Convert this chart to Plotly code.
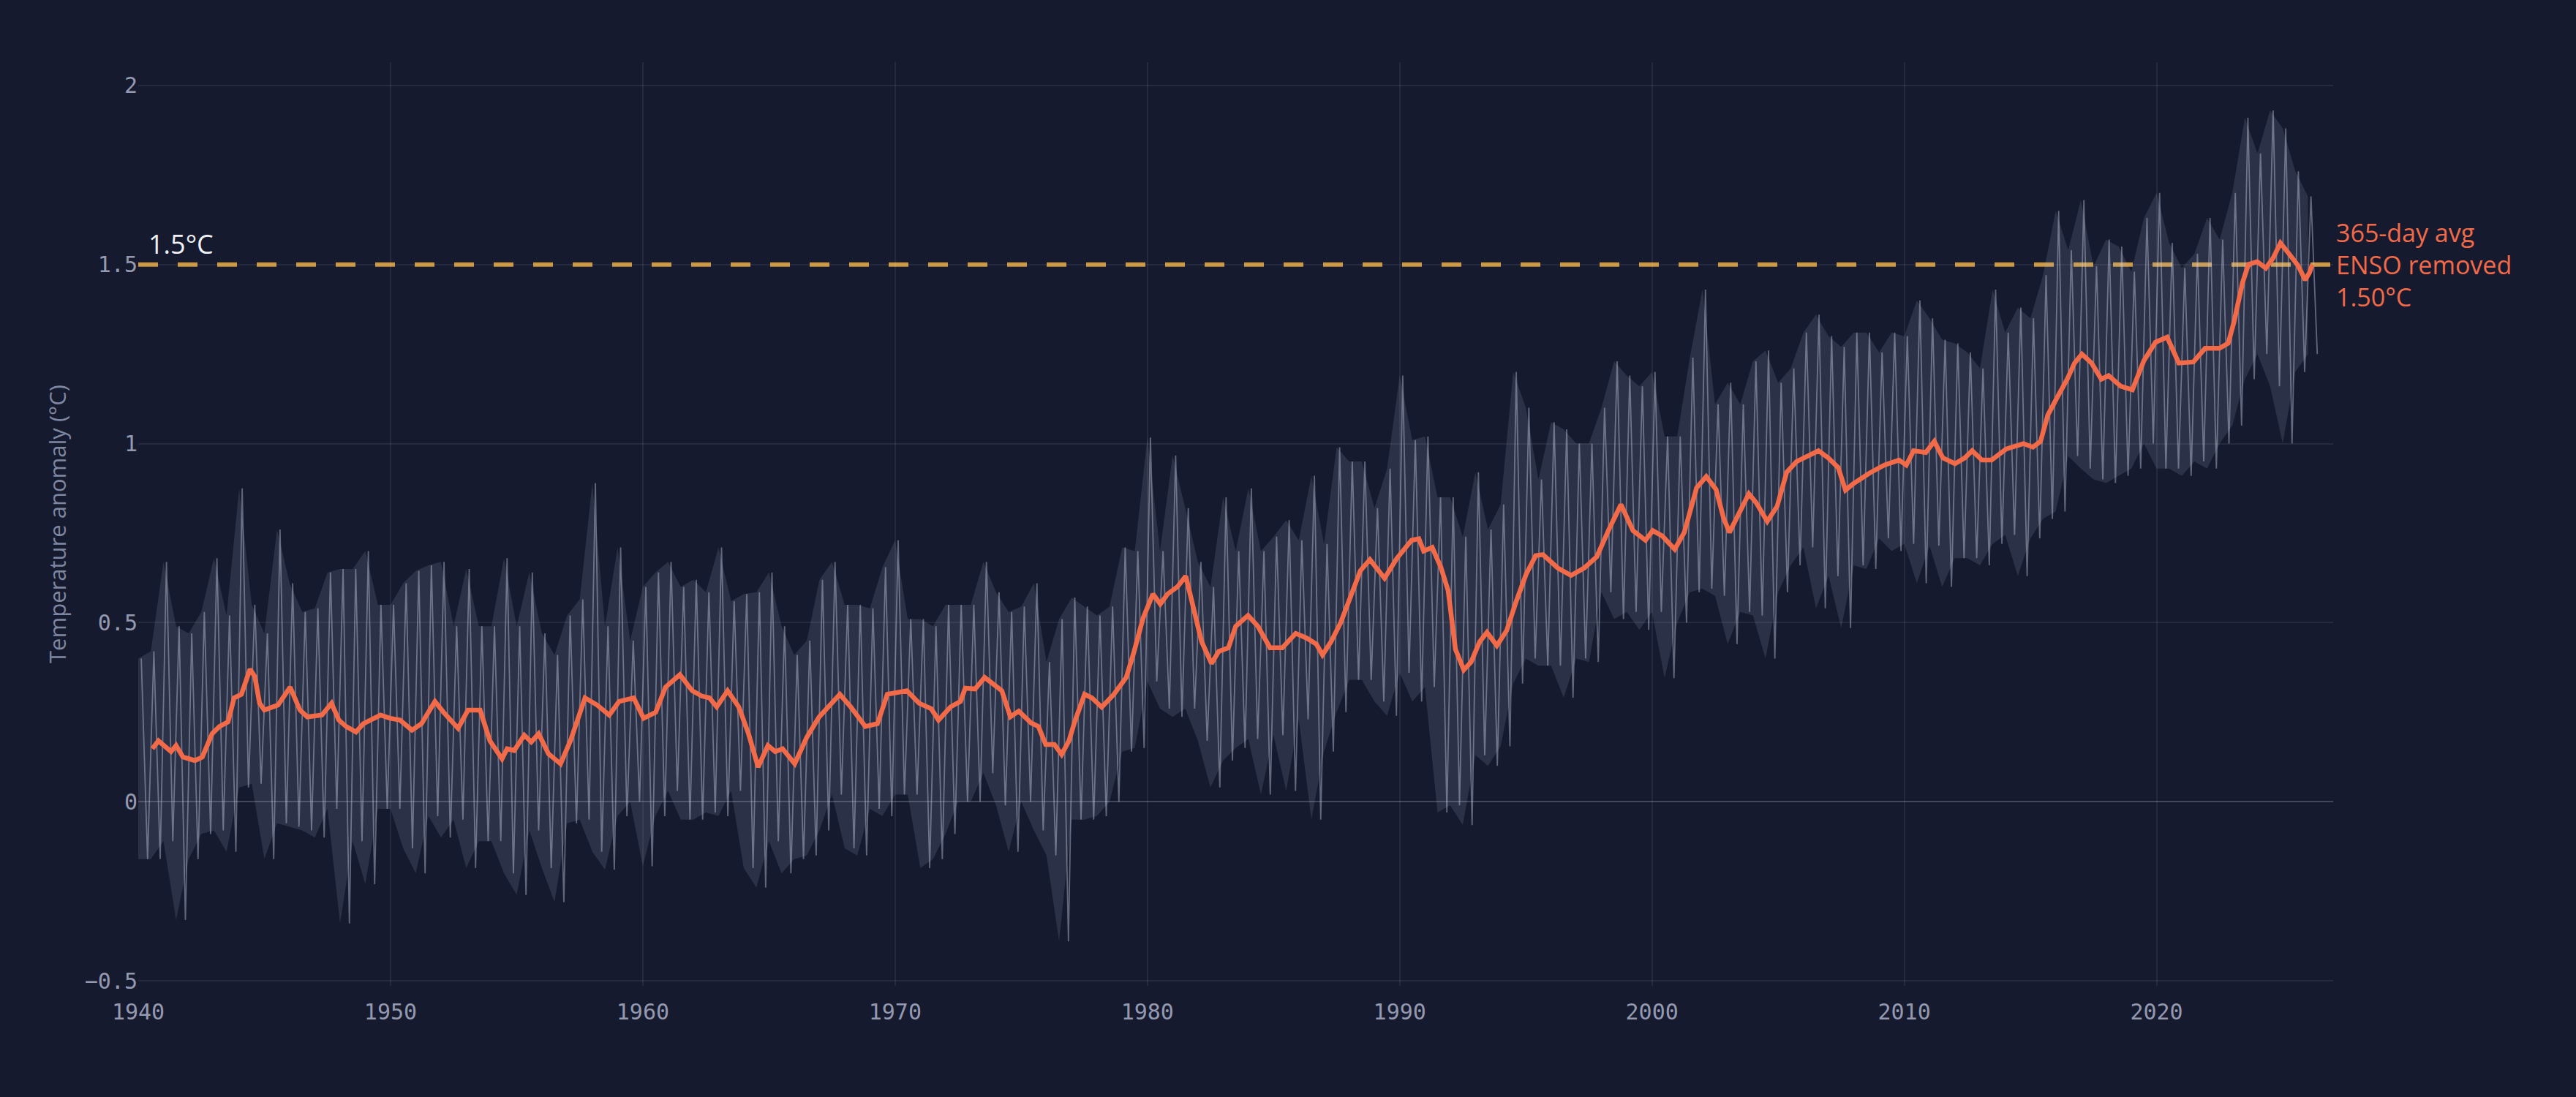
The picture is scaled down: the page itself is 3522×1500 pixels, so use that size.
import plotly.graph_objects as go

# 365-day average, ENSO removed
avg_years = [
    1940.56, 1940.8, 1941.3, 1941.5, 1941.77, 1942.25, 1942.54, 1942.93, 1943.22, 1943.56,
    1943.8, 1944.09, 1944.43, 1944.62, 1944.81, 1945.0, 1945.54, 1946.02, 1946.41, 1946.7,
    1947.28, 1947.66, 1947.95, 1948.24, 1948.63, 1948.92, 1949.6, 1949.98, 1950.37, 1950.85,
    1951.23, 1951.76, 1952.1, 1952.68, 1953.07, 1953.55, 1953.94, 1954.42, 1954.62, 1954.9,
    1955.3, 1955.58, 1955.87, 1956.26, 1956.74, 1957.13, 1957.71, 1958.19, 1958.67, 1959.06,
    1959.64, 1960.03, 1960.51, 1960.9, 1961.47, 1961.96, 1962.34, 1962.64, 1962.93, 1963.36,
    1963.8, 1964.19, 1964.57, 1964.96, 1965.25, 1965.54, 1966.02, 1966.5, 1966.99, 1967.37,
    1967.81, 1968.24, 1968.82, 1969.3, 1969.69, 1970.47, 1970.95, 1971.43, 1971.72, 1972.2,
    1972.59, 1972.78, 1973.17, 1973.55, 1973.94, 1974.23, 1974.57, 1974.9, 1975.39, 1975.68,
    1975.97, 1976.31, 1976.6, 1976.89, 1977.13, 1977.51, 1977.8, 1978.19, 1978.67, 1979.16,
    1979.45, 1979.83, 1980.22, 1980.51, 1980.8, 1981.19, 1981.52, 1981.86, 1982.15, 1982.54,
    1982.83, 1983.21, 1983.5, 1983.99, 1984.38, 1984.86, 1985.35, 1985.88, 1986.31, 1986.7,
    1986.94, 1987.28, 1987.66, 1988.05, 1988.44, 1988.82, 1989.4, 1989.89, 1990.47, 1990.76,
    1990.95, 1991.29, 1991.63, 1991.92, 1992.21, 1992.54, 1992.83, 1993.17, 1993.46, 1993.85,
    1994.24, 1994.62, 1995.01, 1995.39, 1995.68, 1996.26, 1996.79, 1997.32, 1997.81, 1998.29,
    1998.77, 1999.25, 1999.74, 2000.03, 2000.41, 2000.9, 2001.28, 2001.77, 2002.15, 2002.54,
    2002.83, 2003.07, 2003.51, 2003.84, 2004.13, 2004.57, 2004.96, 2005.34, 2005.73, 2006.21,
    2006.6, 2006.99, 2007.38, 2007.67, 2007.96, 2008.63, 2009.21, 2009.79, 2010.08, 2010.37,
    2010.85, 2011.19, 2011.53, 2012.01, 2012.4, 2012.69, 2013.08, 2013.46, 2014.04, 2014.72,
    2015.1, 2015.4, 2015.69, 2016.07, 2016.46, 2016.75, 2017.04, 2017.42, 2017.81, 2018.1,
    2018.58, 2019.04, 2019.5, 2019.96, 2020.42, 2020.88, 2021.46, 2021.92, 2022.49, 2022.84,
    2023.07, 2023.41, 2023.64, 2023.99, 2024.33, 2024.62, 2024.91, 2025.25, 2025.6, 2025.89,
    2026.06, 2026.17,
]
avg_vals = [
    0.148, 0.17, 0.14, 0.157, 0.125, 0.115, 0.125, 0.19, 0.21, 0.223,
    0.29, 0.30, 0.37, 0.35, 0.275, 0.256, 0.27, 0.32, 0.256, 0.237,
    0.242, 0.275, 0.228, 0.21, 0.195, 0.218, 0.242, 0.233, 0.228, 0.20,
    0.218, 0.28, 0.25, 0.205, 0.256, 0.256, 0.17, 0.12, 0.148, 0.143,
    0.186, 0.167, 0.19, 0.134, 0.106, 0.17, 0.29, 0.27, 0.242, 0.28,
    0.29, 0.233, 0.25, 0.32, 0.355, 0.31, 0.295, 0.29, 0.265, 0.31,
    0.265, 0.19, 0.097, 0.157, 0.14, 0.148, 0.106, 0.18, 0.237, 0.265,
    0.30, 0.265, 0.21, 0.218, 0.30, 0.31, 0.275, 0.26, 0.228, 0.265,
    0.28, 0.317, 0.315, 0.347, 0.325, 0.31, 0.237, 0.253, 0.22, 0.21,
    0.16, 0.16, 0.132, 0.17, 0.226, 0.30, 0.29, 0.264, 0.30, 0.347,
    0.414, 0.513, 0.58, 0.552, 0.58, 0.60, 0.63, 0.524, 0.447, 0.386,
    0.42, 0.43, 0.49, 0.52, 0.49, 0.43, 0.43, 0.47, 0.457, 0.44,
    0.41, 0.447, 0.50, 0.572, 0.645, 0.676, 0.624, 0.68, 0.73, 0.734,
    0.70, 0.71, 0.655, 0.59, 0.426, 0.368, 0.39, 0.447, 0.473, 0.436,
    0.478, 0.56, 0.635, 0.687, 0.69, 0.653, 0.632, 0.653, 0.684, 0.76,
    0.83, 0.757, 0.73, 0.757, 0.742, 0.705, 0.752, 0.877, 0.908, 0.872,
    0.794, 0.752, 0.815, 0.86, 0.835, 0.783, 0.825, 0.92, 0.95, 0.966,
    0.98, 0.96, 0.933, 0.87, 0.887, 0.918, 0.94, 0.954, 0.94, 0.98,
    0.975, 1.006, 0.96, 0.944, 0.96, 0.98, 0.954, 0.954, 0.985, 1.0,
    0.99, 1.006, 1.08, 1.13, 1.18, 1.225, 1.25, 1.225, 1.18, 1.19,
    1.16, 1.15, 1.232, 1.283, 1.297, 1.225, 1.228, 1.266, 1.266, 1.28,
    1.34, 1.45, 1.50, 1.508, 1.49, 1.518, 1.56, 1.53, 1.498, 1.457,
    1.477, 1.50,
]

# daily anomaly band: highs and lows per half year
daily_years = [1940 + 0.5 * i for i in range(173)]
daily_hi = [
    0.40, 0.42, 0.67, 0.49, 0.47, 0.53, 0.68, 0.52, 0.875, 0.55,
    0.47, 0.76, 0.61, 0.53, 0.54, 0.64, 0.65, 0.65, 0.70, 0.55,
    0.55, 0.61, 0.645, 0.66, 0.67, 0.49, 0.65, 0.49, 0.49, 0.68,
    0.49, 0.64, 0.47, 0.41, 0.52, 0.565, 0.89, 0.49, 0.71, 0.45,
    0.60, 0.64, 0.67, 0.60, 0.62, 0.585, 0.71, 0.56, 0.58, 0.585,
    0.64, 0.49, 0.41, 0.45, 0.62, 0.67, 0.55, 0.55, 0.54, 0.655,
    0.73, 0.51, 0.51, 0.49, 0.55, 0.55, 0.55, 0.67, 0.585, 0.53,
    0.545, 0.61, 0.39, 0.51, 0.57, 0.545, 0.52, 0.545, 0.71, 0.70,
    1.017, 0.70, 0.967, 0.82, 0.67, 0.60, 0.85, 0.70, 0.875, 0.70,
    0.74, 0.786, 0.73, 0.91, 0.72, 0.99, 0.95, 0.95, 0.82, 0.93,
    1.19, 1.01, 1.02, 0.85, 0.85, 0.74, 0.92, 0.76, 0.83, 1.20,
    1.10, 0.90, 1.06, 1.04, 1.0, 1.0, 1.10, 1.23, 1.19, 1.16,
    1.20, 1.02, 1.02, 1.24, 1.43, 1.11, 1.17, 1.11, 1.23, 1.26,
    1.17, 1.21, 1.31, 1.36, 1.30, 1.27, 1.31, 1.31, 1.255, 1.31,
    1.30, 1.40, 1.35, 1.29, 1.28, 1.255, 1.21, 1.43, 1.31, 1.38,
    1.35, 1.47, 1.65, 1.54, 1.68, 1.495, 1.57, 1.55, 1.48, 1.63,
    1.70, 1.56, 1.49, 1.53, 1.63, 1.57, 1.70, 1.91, 1.81, 1.93,
    1.88, 1.76, 1.69,
]
daily_lo = [
    -0.16, -0.16, -0.11, -0.33, -0.16, -0.09, -0.08, -0.14, 0.04, 0.05,
    -0.16, -0.06, -0.07, -0.08, -0.10, -0.02, -0.34, -0.11, -0.23, -0.02,
    -0.02, -0.13, -0.20, -0.04, -0.10, -0.05, -0.185, -0.11, -0.11, -0.20,
    -0.26, -0.08, -0.185, -0.28, -0.06, -0.05, -0.14, -0.19, -0.04, 0.0,
    -0.18, -0.04, 0.03, -0.05, -0.05, -0.03, -0.04, 0.03, -0.185, -0.24,
    -0.11, -0.20, -0.16, -0.15, -0.08, 0.02, -0.13, -0.15, -0.02, -0.04,
    0.02, 0.02, -0.185, -0.16, -0.09, 0.0, 0.0, 0.08, -0.01, -0.14,
    0.0, -0.08, -0.15, -0.39, -0.05, -0.05, -0.04, 0.0, 0.14, 0.15,
    0.336, 0.26, 0.237, 0.26, 0.17, 0.04, 0.115, 0.15, 0.175, 0.02,
    0.186, 0.03, 0.23, -0.05, 0.14, 0.25, 0.34, 0.34, 0.28, 0.24,
    0.36, 0.28, 0.32, -0.03, -0.01, -0.065, 0.13, 0.10, 0.155, 0.33,
    0.40, 0.38, 0.38, 0.29, 0.40, 0.39, 0.585, 0.51, 0.53, 0.48,
    0.53, 0.345, 0.50, 0.585, 0.595, 0.575, 0.44, 0.53, 0.52, 0.40,
    0.585, 0.66, 0.71, 0.54, 0.63, 0.485, 0.66, 0.65, 0.735, 0.70,
    0.72, 0.61, 0.715, 0.60, 0.68, 0.68, 0.66, 0.72, 0.745, 0.63,
    0.735, 0.79, 0.81, 0.965, 0.93, 0.90, 0.89, 0.91, 0.93, 1.0,
    0.93, 0.93, 0.91, 0.95, 0.93, 1.0, 1.05, 1.18, 1.25, 1.16,
    1.0, 1.2, 1.25,
]

threshold = 1.5
x_ticks = [1940, 1950, 1960, 1970, 1980, 1990, 2000, 2010, 2020]
y_ticks = [-0.5, 0, 0.5, 1, 1.5, 2]

bg = "#151a2e"
orange = "#f26a48"
tick_col = "#9499b0"
mono = "DejaVu Sans Mono"
sans = "Open Sans"

# spikes: alternate the high and low of each half year
spike_x, spike_y = [], []
for t, hi, lo in zip(daily_years, daily_hi, daily_lo):
    spike_x += [t + 0.12, t + 0.37]
    spike_y += [hi, lo]

fig = go.Figure()
fig.add_trace(go.Scatter(x=daily_years, y=daily_lo, mode="lines",
                         line=dict(width=0), hoverinfo="skip"))
fig.add_trace(go.Scatter(x=daily_years, y=daily_hi, mode="lines",
                         line=dict(width=0), fill="tonexty",
                         fillcolor="rgba(175,182,210,0.15)", hoverinfo="skip"))
fig.add_trace(go.Scatter(x=spike_x, y=spike_y, mode="lines",
                         line=dict(color="rgba(205,210,232,0.42)", width=1.8)))
fig.add_trace(go.Scatter(x=avg_years, y=avg_vals, mode="lines",
                         line=dict(color=orange, width=6.5)))

fig.add_shape(type="line", xref="paper", x0=0, x1=1, yref="y", y0=threshold, y1=threshold,
              line=dict(color="#c9963f", width=6, dash="27px,27px"), layer="below")

fig.add_annotation(x=1940, y=threshold, xref="x", yref="y", text="1.5°C",
                   showarrow=False, xanchor="left", yanchor="bottom", xshift=12, yshift=2,
                   font=dict(family=sans, size=36, color="#eef0f6"))
fig.add_annotation(x=1, y=threshold, xref="paper", yref="y",
                   text="365-day avg<br>ENSO removed<br>%.2f°C" % avg_vals[-1],
                   showarrow=False, xanchor="left", yanchor="middle", align="left", xshift=2,
                   font=dict(family=sans, size=34, color=orange))

fig.update_layout(
    width=3522, height=1500,
    paper_bgcolor=bg, plot_bgcolor=bg,
    showlegend=False,
    margin=dict(l=189, r=332, t=85, b=152),
)
fig.update_xaxes(range=[1940, 2027], tickvals=x_ticks, showgrid=True,
                 gridcolor="rgba(255,255,255,0.07)", gridwidth=2, zeroline=False,
                 showline=False, ticklabelstandoff=15,
                 tickfont=dict(family=mono, size=30, color=tick_col))
fig.update_yaxes(range=[-0.514, 2.065], tickvals=y_ticks, showgrid=True,
                 gridcolor="rgba(255,255,255,0.07)", gridwidth=2,
                 zeroline=True, zerolinecolor="rgba(255,255,255,0.2)", zerolinewidth=2,
                 showline=False, tickfont=dict(family=mono, size=30, color=tick_col),
                 title=dict(text="Temperature anomaly (°C)",
                            font=dict(family=sans, size=31, color="#7f86a0")))

fig.write_html("out.html", config={"displayModeBar": False},
               post_script="document.body.style.margin='0';"
                           "document.body.style.background='%s';"
                           "document.body.style.overflow='hidden';" % bg)
